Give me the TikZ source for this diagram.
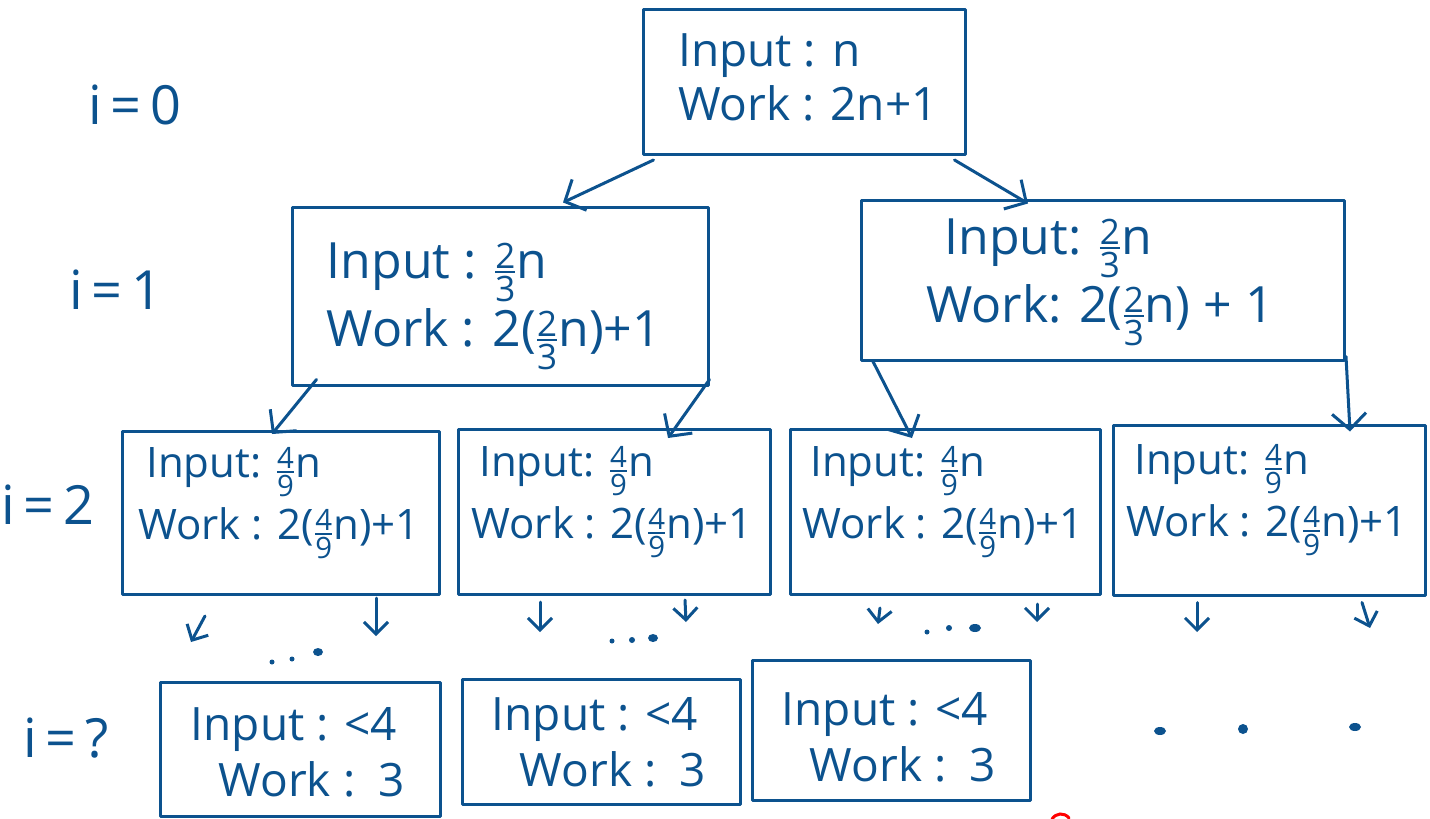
\documentclass[tikz,border=0pt]{standalone}
\usepackage{amsmath}
\usepackage{fontspec}
\setmainfont{Open Sans}
\usetikzlibrary{arrows.meta,calc}
\definecolor{ink}{RGB}{12,82,142}
\newcommand\fr[2]{$\genfrac{}{}{2.5pt}{1}{\text{#1}}{\text{#2}}$}
\begin{document}
\begin{tikzpicture}[x=1pt,y=-1pt,
  box/.style={draw=ink, line width=3pt, line join=round, rectangle, inner sep=0pt},
  txt/.style={text=ink, align=left, inner sep=0pt},
  lbl/.style={text=ink, inner sep=0pt, font=\fontsize{54}{60}\selectfont},
  arr/.style={draw=ink, line width=3pt, line cap=round, line join=round,
    -{Straight Barb[length=16pt,width=34pt,line width=3pt]}},
  sarr/.style={draw=ink, line width=3pt, line cap=round, line join=round,
    -{Straight Barb[length=12pt,width=24pt,line width=3pt]}},
  dot/.style={fill=ink, draw=none}]
\useasboundingbox (0,0) rectangle (1430,819);

% level labels
\node[lbl] (l0) at (135,105) {i\,=\,0};
\node[lbl] (l1) at (116,290) {i\,=\,1};
\node[lbl] (l2) at (48,505) {i\,=\,2};
\node[lbl] (l3) at (66,738) {i\,=\,?};

% root
\node[box, minimum width=322pt, minimum height=145pt] (root) at (804,82) {};
\node[txt, font=\fontsize{46}{54}\selectfont] (rootT) at ($(root)+(4,-5)$) {Input : n\\Work : 2n+1};

% level 1
\node[box, minimum width=416pt, minimum height=178pt] (A) at (500,296) {};
\node[txt, font=\fontsize{50}{68}\selectfont] (AT) at ($(A)+(-6,10)$) {Input : \fr{2}{3}n\\Work : 2(\fr{2}{3}n)+1};
\node[box, minimum width=483pt, minimum height=160pt] (B) at (1103,280) {};
\node[txt, font=\fontsize{50}{68}\selectfont] (BT) at ($(B)+(-3,2)$) {\hspace*{18pt}Input: \fr{2}{3}n\\Work: 2(\fr{2}{3}n) + 1};

% level 2
\foreach \nm/\cx/\cy/\w/\h in {C1/281/513/317/163, C2/614/512/312/165, C3/945/512/310/165, C4/1269/510/312/170}{
  \node[box, minimum width=\w pt, minimum height=\h pt] (\nm) at (\cx,\cy) {};
  \node[txt, font=\fontsize{42}{62}\selectfont] (\nm T) at ($(\nm)+(-2,-10)$) {\hspace*{8pt}Input: \fr{4}{9}n\\Work : 2(\fr{4}{9}n)+1};
}

% bottom level
\foreach \nm/\cx/\cy/\w/\h in {D1/300/749/280/134, D2/601/742/278/125, D3/891/730/278/140}{
  \node[box, minimum width=\w pt, minimum height=\h pt] (\nm) at (\cx,\cy) {};
}
\node[txt, font=\fontsize{46}{56}\selectfont] (D1T) at ($(D1)+(-2,3)$) {Input : {<}4\\\hspace*{28pt}Work : \,3};
\node[txt, font=\fontsize{46}{56}\selectfont] (D2T) at ($(D2)+(-2,0)$) {Input : {<}4\\\hspace*{28pt}Work : \,3};
\node[txt, font=\fontsize{46}{56}\selectfont] (D3T) at ($(D3)+(-2,7)$) {Input : {<}4\\\hspace*{28pt}Work : \,3};

% arrows between levels
\draw[arr] ([xshift=12pt,yshift=-4pt]root.south west) -- ([xshift=63pt,yshift=3pt]A.north);
\draw[arr] ([xshift=-12pt,yshift=-4pt]root.south east) -- ([xshift=-75pt,yshift=-5pt]B.north);
\draw[arr] ([xshift=26pt,yshift=7pt]A.south west) -- ([xshift=-9pt,yshift=-4pt]C1.north);
\draw[arr] ([yshift=7pt]A.south east) -- ([xshift=54pt,yshift=-10pt]C2.north);
\draw[arr] ([xshift=13pt]B.south west) -- ([xshift=-33pt,yshift=-10pt]C3.north);
\draw[arr] ([yshift=5pt]B.south east) -- ([xshift=81pt,yshift=-8pt]C4.north);

% short arrows below level 2
\coordinate (e1) at (191,642); \coordinate (e2) at (376,636);
\coordinate (e3) at (540,632); \coordinate (e4) at (686,622);
\coordinate (e5) at (878,624); \coordinate (e6) at (1037,622);
\coordinate (e7) at (1197,632); \coordinate (e8) at (1370,628);
\draw[sarr] ([xshift=-76pt,yshift=-20pt]C1.south) -- (e1);
\draw[sarr] ([xshift=95pt,yshift=-2pt]C1.south) -- (e2);
\draw[sarr] ([xshift=-74pt,yshift=-6pt]C2.south) -- (e3);
\draw[sarr] ([xshift=71pt,yshift=-4pt]C2.south) -- (e4);
\draw[sarr] ([xshift=-65pt,yshift=-12pt]C3.south) -- (e5);
\draw[sarr] ([xshift=92pt,yshift=-8pt]C3.south) -- (e6);
\draw[sarr] ([xshift=-72pt,yshift=-6pt]C4.south) -- (e7);
\draw[sarr] ([xshift=93pt,yshift=-6pt]C4.south) -- (e8);

% dots
\fill[dot] (272,662) circle (2.5pt) (292,659) circle (2.5pt) (318,652) ellipse (5pt and 4pt);
\fill[dot] (612,641) circle (2.5pt) (632,640) circle (3pt) (653,638) ellipse (5pt and 4pt);
\fill[dot] (927,632) circle (2.5pt) (949,628) circle (3pt) (975,628) ellipse (6pt and 4pt);
\fill[dot] (1160,731) ellipse (6pt and 4pt) (1243,729) ellipse (5pt and 5pt) (1355,727) ellipse (6pt and 4pt);

% red mark
\draw[red, line width=3pt, line cap=round] (1052,819) .. controls (1056,813) and (1064,812) .. (1069,818);
\end{tikzpicture}
\end{document}
